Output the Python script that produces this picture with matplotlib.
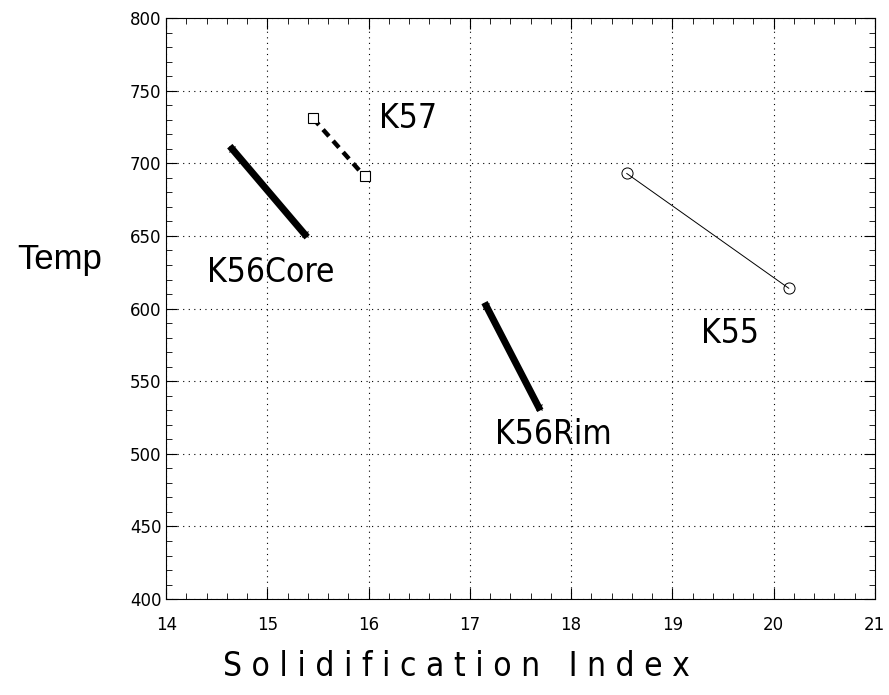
import numpy as np
import matplotlib.pyplot as plt
from matplotlib.ticker import MultipleLocator

# solidification index vs temperature, end points of each sample
k56core_si = [14.65, 15.37]
k56core_t = [710, 651]
k57_si = [15.45, 15.96]
k57_t = [731, 691]
k56rim_si = [17.16, 17.68]
k56rim_t = [602, 532]
k55_si = [18.55, 20.15]
k55_t = [693, 614]

labels = ["K56Core", "K57", "K56Rim", "K55"]
label_pos = [(14.4, 625), (16.1, 731), (17.25, 513), (19.28, 583)]

fig = plt.figure(figsize=(8.89, 6.95), dpi=100)
ax = fig.add_axes([0.187, 0.138, 0.797, 0.836])

ax.plot(k56core_si, k56core_t, color="black", lw=5, marker="x", ms=5, mew=0.8)
ax.plot(k57_si, k57_t, color="black", lw=3.2, ls=(0, (2.0, 1.4)), marker="s",
        ms=7, mfc="white", mew=0.8)
ax.plot(k56rim_si, k56rim_t, color="black", lw=5, marker="x", ms=5, mew=0.8)
ax.plot(k55_si, k55_t, color="black", lw=0.7, marker="o", ms=8, mfc="none", mew=0.7)

for txt, (x, y) in zip(labels, label_pos):
    ax.text(x, y, txt, fontsize=24, family="DejaVu Sans", fontstretch="condensed",
            va="center", ha="left")

ax.set_xlim(14, 21)
ax.set_ylim(400, 800)
ax.xaxis.set_major_locator(MultipleLocator(1))
ax.xaxis.set_minor_locator(MultipleLocator(0.2))
ax.yaxis.set_major_locator(MultipleLocator(50))
ax.yaxis.set_minor_locator(MultipleLocator(10))
ax.tick_params(which="both", direction="in", top=True, right=True, labelsize=12)
ax.tick_params(which="major", length=8, width=0.8)
ax.tick_params(which="minor", length=4, width=0.6)
ax.tick_params(axis="x", pad=12)
ax.grid(True, which="major", ls=(0, (1, 4)), color="black", lw=0.8)

ax.set_xlabel("S o l i d i f i c a t i o n   I n d e x", fontsize=24,
              fontstretch="condensed", va="center")
ax.xaxis.set_label_coords(0.41, -0.116)
ax.set_ylabel("Temp", fontsize=25, family="Liberation Sans", rotation=0, va="center")
ax.yaxis.set_label_coords(-0.151, 0.585)

fig.savefig("out.png", dpi=100)
